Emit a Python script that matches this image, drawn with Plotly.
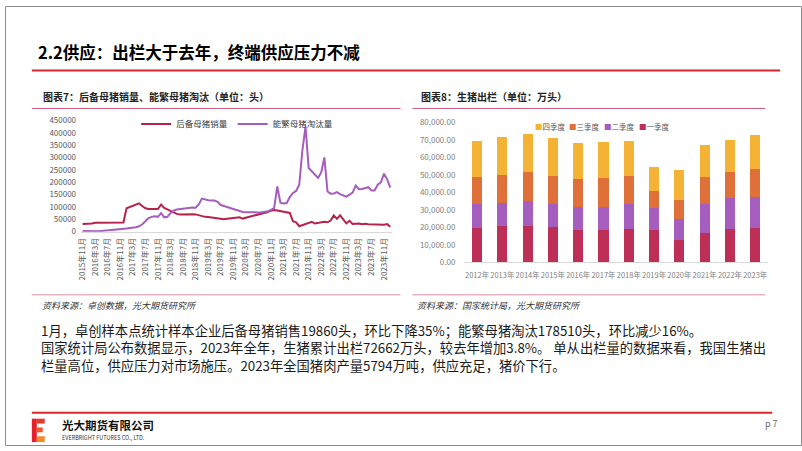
import pandas as pd
import plotly.graph_objects as go

W, H = 802, 451

# ---------------- data ----------------
months = [f"{p.year}年{p.month}月" for p in pd.period_range("2015-11", "2024-01", freq="M")]
month_ticks = months[::4]

gilt_sales = [  # 后备母猪销量
    31000, 31000, 32000, 33000, 36000, 36000, 37000, 36000, 35000, 36000, 36000, 36000, 36000, 37000,
    95000, 100000, 106000, 112000, 115000, 104000, 95000, 92000, 93000, 91000, 92000, 110000,
    96000, 90000, 84000, 78000, 72000, 70000, 71000, 70000, 72000, 71000, 70000, 66000,
    62000, 60000, 59000, 57000, 55000, 52000, 50000, 50000, 52000, 53000, 55000, 57000,
    58000, 53000, 56000, 60000, 63000, 66000, 70000, 73000, 77000, 80000, 85000, 88000,
    86000, 84000, 83000, 81000, 76000, 42000, 38000, 22000, 26000, 33000, 36000, 40000,
    33000, 35000, 38000, 40000, 38000, 45000, 66000, 52000, 66000, 50000, 34000, 44000,
    31000, 32000, 33000, 30000, 32000, 30000, 29000, 31000, 29000, 27000, 28000, 30550, 19860,
]
sow_culls = [  # 能繁母猪淘汰量
    3000, 2500, 3000, 2000, 1000, 2000, 3000, 4000, 5000, 7000, 9000, 10000, 10000, 11000,
    13000, 15000, 16000, 18000, 22000, 30000, 42000, 55000, 60000, 62000, 60000, 75000,
    58000, 60000, 75000, 85000, 90000, 92000, 95000, 97000, 98000, 98000, 97000, 110000,
    134000, 130000, 127000, 126000, 126000, 121000, 108000, 104000, 100000, 93000, 90000, 86000,
    83000, 80000, 79000, 78000, 78000, 78000, 78000, 79000, 80000, 83000, 88000, 95000,
    183000, 117000, 114000, 116000, 140000, 157000, 165000, 190000, 330000, 426000, 258000, 245000,
    235000, 218000, 240000, 301000, 163000, 154000, 155000, 160000, 152000, 148000, 142000, 150000,
    158000, 187000, 172000, 173000, 176000, 180000, 167000, 167000, 190000, 200000, 235000, 212000, 178510,
]
line_names = ["后备母猪销量", "能繁母猪淘汰量"]
line_colors = ["#B5234C", "#A55DBE"]

years = ["2012年", "2013年", "2014年", "2015年", "2016年", "2017年",
         "2018年", "2019年", "2020年", "2021年", "2022年", "2023年"]
q1 = [19750, 20500, 21000, 20100, 18250, 18250, 19200, 18250, 12700, 16750, 19200, 19750]
q2 = [13750, 13500, 14000, 13000, 13350, 13550, 13900, 12650, 12100, 16350, 17300, 17650]
q3 = [15400, 15900, 16700, 16200, 16000, 16200, 16200, 10100, 11100, 15800, 15200, 16200]
q4 = [20728, 21657, 21810, 21525, 20902, 20861, 20082, 13419, 16804, 18228, 18295, 19062]
quarter_names = ["一季度", "二季度", "三季度", "四季度"]
quarter_colors = ["#BE2F57", "#A55DBE", "#E0703A", "#F5B335"]

title_text = "2.2供应：出栏大于去年，终端供应压力不减"
chart7_title = "图表7：后备母猪销量、能繁母猪淘汰（单位：头）"
chart8_title = "图表8：生猪出栏（单位：万头）"
source7 = "资料来源：卓创数据，光大期货研究所"
source8 = "资料来源：国家统计局，光大期货研究所"
body_lines = [
    "1月，卓创样本点统计样本企业后备母猪销售19860头，环比下降35%；能繁母猪淘汰178510头，环比减少16%。",
    "国家统计局公布数据显示，2023年全年，生猪累计出栏72662万头，较去年增加3.8%。 单从出栏量的数据来看，我国生猪出",
    "栏量高位，供应压力对市场施压。2023年全国猪肉产量5794万吨，供应充足，猪价下行。",
]

# ---------------- helpers ----------------
def fx(x):
    return x / W

def fy(y):
    return 1 - y / H

FONT = "Noto Sans CJK SC, Noto Sans, sans-serif"

fig = go.Figure()

for name, vals, col in zip(line_names, [gilt_sales, sow_culls], line_colors):
    fig.add_trace(go.Scatter(x=months, y=vals, name=name, mode="lines",
                             line=dict(color=col, width=2), xaxis="x", yaxis="y",
                             legend="legend"))

for name, vals, col in zip(quarter_names, [q1, q2, q3, q4], quarter_colors):
    fig.add_trace(go.Bar(x=years, y=vals, name=name, marker=dict(color=col, line=dict(width=0)),
                         xaxis="x2", yaxis="y2", showlegend=False))

shapes = []
def hline(y, x0, x1, color, width):
    shapes.append(dict(type="line", xref="paper", yref="paper", x0=fx(x0), x1=fx(x1),
                       y0=fy(y), y1=fy(y), line=dict(color=color, width=width)))

def rect(x0, y0, x1, y1, color):
    shapes.append(dict(type="rect", xref="paper", yref="paper", x0=fx(x0), x1=fx(x1),
                       y0=fy(y1), y1=fy(y0), fillcolor=color, line=dict(width=0)))

# frame
shapes.append(dict(type="rect", xref="paper", yref="paper", x0=fx(0.5), x1=fx(801.5),
                   y0=fy(450.5), y1=fy(0.5), line=dict(color="#8C8C8C", width=1)))
hline(66, 27, 780, "#D0282E", 2)
hline(105, 27, 398, "#C9577A", 1)
hline(105, 410, 765, "#C9577A", 1)
hline(296, 27, 398, "#EBB3C2", 1.5)
hline(296, 410, 765, "#EBB3C2", 1.5)
hline(417, 27, 772, "#D9262B", 2)
# logo
rect(27, 423, 32, 447, "#E5202A")
rect(32, 423, 40, 428, "#E83A2A")
rect(32, 432, 38, 437, "#EE5A2B")
rect(32, 441, 40, 447, "#F08A2C")

ann = []
def text(x, y, s, size, color="#000", xanchor="left", yanchor="middle", **kw):
    ann.append(dict(x=fx(x), y=fy(y), xref="paper", yref="paper", text=s, showarrow=False,
                    xanchor=xanchor, yanchor=yanchor, align="left",
                    font=dict(size=size, color=color, family=FONT), **kw))

text(31, 47, f"<b>{title_text}</b>", 16.5, "#000")
text(36, 93, f"<b>{chart7_title}</b>", 10, "#222")
text(417, 93, f"<b>{chart8_title}</b>", 10, "#222")
text(35, 307, f"<i>{source7}</i>", 9, "#333")
text(413, 307, f"<i>{source8}</i>", 9, "#333")
text(34, 351, "<br>".join(body_lines), 13.3, "#1a1a1a")
text(55, 429.5, "<b>光大期货有限公司</b>", 11.5, "#111")
text(55, 442.5, "EVERBRIGHT FUTURES CO., LTD.", 5.5, "#333")
text(763, 428, "p 7", 9, "#666")

# bar legend (order 四,三,二,一)
leg_x = [531, 566, 601, 636]
for xx, name, col in zip(leg_x, quarter_names[::-1], quarter_colors[::-1]):
    text(xx, 124, f"<span style='color:{col}'>■</span>{name}", 7.5, "#595959")

fig.update_layout(
    width=W, height=H, autosize=False,
    margin=dict(l=0, r=0, t=0, b=0),
    paper_bgcolor="white", plot_bgcolor="white",
    font=dict(family=FONT, size=8, color="#595959"),
    barmode="stack", bargap=0.6,
    shapes=shapes, annotations=ann,
    legend=dict(orientation="h", x=fx(132), y=fy(121), xanchor="left", yanchor="middle",
                font=dict(size=8.5, color="#404040", family=FONT), bgcolor="rgba(0,0,0,0)",
                itemwidth=30, tracegroupgap=0, traceorder="normal"),
    xaxis=dict(domain=[fx(76.5), fx(389.3)], anchor="y", type="category",
               range=[-0.5, 98.5], tickmode="array", tickvals=month_ticks, ticktext=month_ticks,
               tickangle=-90, tickfont=dict(size=8, color="#595959"), showline=True,
               linecolor="#D9D9D9", linewidth=1, ticks="", showgrid=False, zeroline=False,
               ticklabelstandoff=2),
    yaxis=dict(domain=[fy(231.3), fy(117.5)], anchor="x", range=[0, 450000], dtick=50000,
               tickformat="d", showgrid=False, zeroline=False, showline=False, ticks="",
               tickfont=dict(size=8, color="#595959"), ticklabelstandoff=4),
    xaxis2=dict(domain=[fx(462.3), fx(767.7)], anchor="y2", type="category",
                showline=True, linecolor="#D9D9D9", linewidth=1, ticks="", showgrid=False,
                tickangle=0, tickfont=dict(size=7.5, color="#7F7F7F"), ticklabelstandoff=6),
    yaxis2=dict(domain=[fy(262.7), fy(119.3)], anchor="x2", range=[0, 80000], dtick=10000,
                tickformat=",.2f", showgrid=False, zeroline=False, showline=False, ticks="",
                tickfont=dict(size=8, color="#7F7F7F"), ticklabelstandoff=8),
)

fig.write_html("out.html")
